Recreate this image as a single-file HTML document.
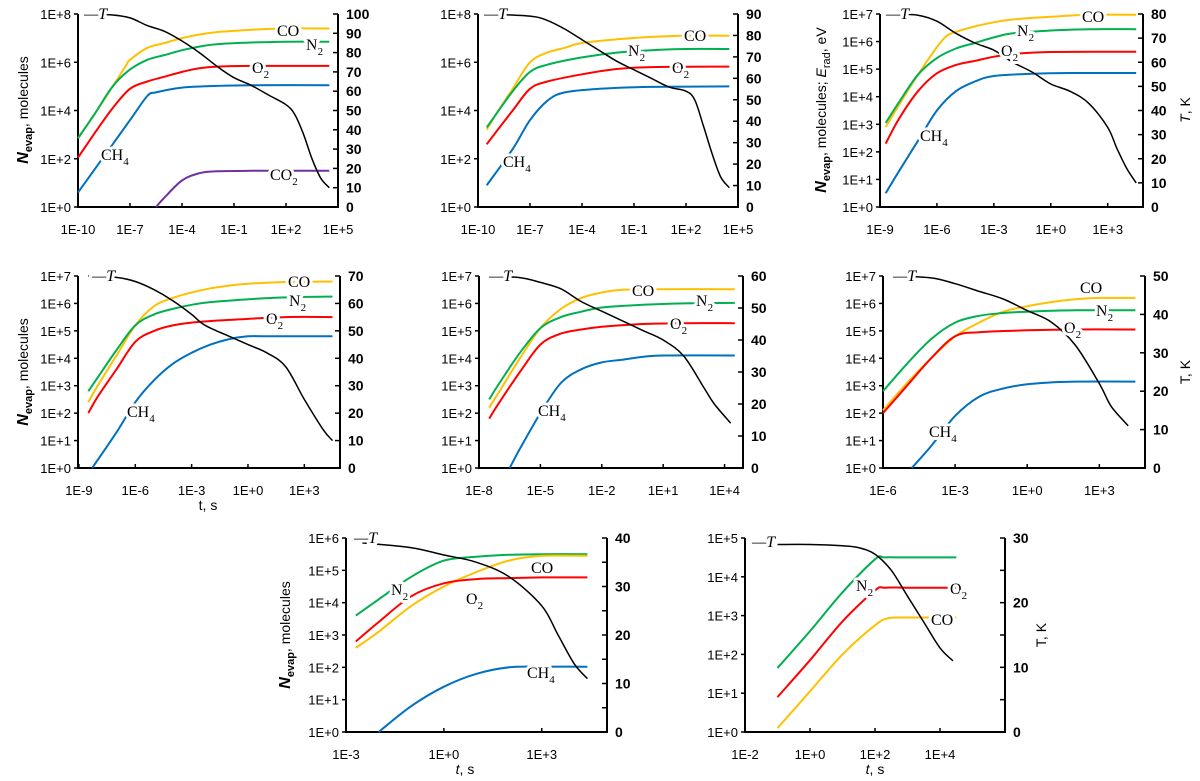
<!DOCTYPE html>
<html><head><meta charset="utf-8">
<style>
html,body{margin:0;padding:0;background:#fff;}
svg{display:block;}
.tk{font-family:"Liberation Sans",sans-serif;font-size:13px;fill:#000;}
.tr{font-family:"Liberation Sans",sans-serif;font-size:14px;font-weight:bold;fill:#000;}
.lb{font-family:"Liberation Serif",serif;font-size:16px;fill:#000;stroke:#fff;stroke-width:6px;paint-order:stroke;stroke-linejoin:round;}
.ax{font-family:"Liberation Sans",sans-serif;font-size:14px;fill:#000;}
</style></head>
<body>
<svg id="fig" width="1200" height="781" viewBox="0 0 1200 781" xmlns="http://www.w3.org/2000/svg"></svg>
<script>
// ---- data: [log10 t, log10 N] for species, [log10 t, T(K)] for temperature ----
const p1CO=[[-10,2.85],[-9,3.9],[-8,5],[-7.2,5.9],[-7,6.1],[-6,6.6],[-5,6.8],[-4,7],[-3,7.15],[-2,7.25],[-1,7.3],[0,7.35],[2,7.4],[4.5,7.4]];
const p1N2=[[-10,2.85],[-9,3.9],[-8,5],[-7,5.7],[-6,6.1],[-5,6.3],[-4,6.5],[-3,6.65],[-2,6.75],[0,6.82],[2,6.85],[4.5,6.85]];
const p1O2=[[-10,2.05],[-9,3.1],[-8,4.1],[-7,4.9],[-6,5.2],[-5,5.4],[-4,5.6],[-3,5.75],[-2,5.82],[0,5.85],[4.5,5.85]];
const p1CH4=[[-10,0.6],[-9,1.6],[-8,2.6],[-7,3.6],[-6,4.6],[-5.5,4.75],[-4,4.95],[-2,5.02],[0,5.05],[4.5,5.05]];
const p1CO2=[[-5.5,0],[-5,0.4],[-4,1.1],[-3,1.4],[-2,1.48],[0,1.5],[4.5,1.5]];
const p1T=[[-9.5,100],[-8,99.5],[-7,98],[-6,94],[-5,91],[-4,86],[-3,80],[-2,73],[-1,67],[0,63],[1,58],[2,53],[2.5,48],[3,38],[3.5,25],[4,15],[4.5,10]];

const p2CO=[[-9.5,3.2],[-9,3.8],[-8,4.9],[-7,6],[-6,6.4],[-5,6.6],[-4,6.8],[-2,6.95],[0,7.05],[2,7.1],[4.5,7.1]];
const p2N2=[[-9.5,3.3],[-9,3.8],[-8,4.8],[-7,5.6],[-6,5.9],[-4,6.2],[-2,6.4],[0,6.5],[2,6.55],[4.5,6.55]];
const p2O2=[[-9.5,2.6],[-8,4],[-7,4.9],[-6,5.2],[-4,5.5],[-2,5.72],[0,5.8],[4.5,5.82]];
const p2CH4=[[-9.5,0.9],[-8,2.4],[-7,3.6],[-6,4.4],[-5,4.75],[-3,4.9],[0,4.98],[4.5,5]];
const p2T=[[-9.5,90],[-7,89],[-6,87],[-5,83],[-4,78],[-3,73],[-2,68],[-1,64],[0,60],[1,56],[2,54],[2.5,50],[3,38],[3.5,25],[4,14],[4.5,9]];

const p3CO=[[-8.7,2.9],[-8,3.7],[-7,4.8],[-6,5.8],[-5.5,6.2],[-5,6.35],[-4,6.55],[-3,6.7],[-2,6.8],[0,6.9],[2,6.97],[4.5,6.97]];
const p3N2=[[-8.7,3.05],[-8,3.8],[-7,4.8],[-6,5.4],[-5,5.75],[-4,5.95],[-3,6.15],[-2,6.3],[0,6.4],[2,6.45],[4.5,6.45]];
const p3O2=[[-8.7,2.3],[-8,3.2],[-7,4.2],[-6,4.85],[-5,5.15],[-4,5.3],[-3,5.45],[-2,5.55],[0,5.62],[4.5,5.63]];
const p3CH4=[[-8.7,0.5],[-8,1.3],[-7,2.4],[-6,3.5],[-5,4.2],[-4,4.55],[-3,4.75],[-1,4.83],[1,4.86],[4.5,4.86]];
const p3T=[[-8.3,80],[-7,79.5],[-6,77],[-5,72],[-4,68],[-3,65],[-2,60],[-1,56],[0,51],[1,48],[2,43],[3,33],[3.5,24],[4,16],[4.5,10]];

const p4CO=[[-8.5,2.4],[-8,3],[-7,4.1],[-6,5.2],[-5,5.9],[-4,6.2],[-3,6.4],[-2,6.55],[-1,6.65],[0,6.72],[2,6.78],[4.5,6.8]];
const p4N2=[[-8.5,2.8],[-8,3.3],[-7,4.3],[-6,5.2],[-5,5.6],[-4,5.8],[-3,5.95],[-2,6.05],[0,6.15],[2,6.22],[4.5,6.25]];
const p4O2=[[-8.5,2],[-8,2.6],[-7,3.6],[-6,4.6],[-5,5],[-4,5.2],[-3,5.3],[-1,5.4],[2,5.5],[4.5,5.5]];
const p4CH4=[[-8.3,0],[-7,1.3],[-6,2.4],[-5,3.2],[-4,3.8],[-3,4.2],[-2,4.5],[-1,4.7],[0,4.8],[1,4.8],[4.5,4.8]];
const p4T=[[-8.5,70],[-7,69.5],[-6,68],[-5,65],[-4,61],[-3,56],[-2.5,53],[-2,51],[-1,48],[0,45],[1,42],[2,37],[3,25],[4,14],[4.5,10]];

const p5CO=[[-7.5,2.2],[-7,2.8],[-6,4],[-5,5.1],[-4,5.8],[-3,6.2],[-2,6.4],[-1,6.5],[1,6.52],[4.5,6.52]];
const p5N2=[[-7.5,2.5],[-7,3.1],[-6,4.2],[-5,5.1],[-4,5.5],[-3,5.7],[-2,5.85],[0,5.95],[2,6],[4.5,6.02]];
const p5O2=[[-7.5,1.8],[-7,2.4],[-6,3.5],[-5,4.5],[-4,4.9],[-3,5.05],[-2,5.15],[0,5.25],[2,5.28],[4.5,5.28]];
const p5CH4=[[-6.5,0],[-6,0.7],[-5,2],[-4,3.1],[-3,3.6],[-2,3.85],[-1,3.95],[0,4.05],[1,4.1],[4.5,4.1]];
const p5T=[[-7.5,60],[-6,59.5],[-5,58],[-4,56],[-3,52],[-2,49],[-1,46],[0,43],[1,40],[2,35],[3,25],[3.5,20],[4.3,14]];

const p6CO=[[-6,2.1],[-5,3.1],[-4,4],[-3,4.8],[-2,5.3],[-1,5.7],[0,5.9],[1,6.05],[2,6.15],[3,6.2],[4.5,6.2]];
const p6N2=[[-6,2.8],[-5,3.8],[-4,4.7],[-3,5.3],[-2,5.55],[-1,5.65],[0,5.7],[2,5.75],[4.5,5.75]];
const p6O2=[[-6,2],[-5,3],[-4,4],[-3,4.8],[-2,4.95],[0,5.02],[2,5.05],[4.5,5.05]];
const p6CH4=[[-4.8,0],[-4,0.8],[-3,1.9],[-2,2.6],[-1,2.9],[0,3.05],[1,3.12],[2,3.15],[4.5,3.15]];
const p6T=[[-5.5,50],[-4,49.5],[-3,48],[-2,46],[-1,44],[0,41],[1,38],[2,32],[3,22],[3.5,16],[4.2,11]];

const p7N2=[[-2.7,3.6],[-2,4.1],[-1,4.8],[0,5.3],[1,5.42],[2,5.48],[3,5.5],[4.4,5.5]];
const p7CO=[[-2.7,2.6],[-2,3.1],[-1,3.9],[0,4.5],[1,4.95],[2,5.3],[3,5.45],[4.4,5.45]];
const p7O2=[[-2.7,2.8],[-2,3.4],[-1,4.2],[0,4.6],[1,4.73],[2,4.76],[3,4.78],[4.4,4.78]];
const p7CH4=[[-2,0],[-1,0.8],[0,1.4],[1,1.8],[2,2],[3,2.02],[4.4,2.02]];
const p7T=[[-2.5,39],[-1,38],[0,36.5],[1,35],[2,32],[3,26],[3.5,20],[4,14],[4.4,11]];

const p8N2=[[-1,1.65],[0,2.6],[1,3.6],[2,4.45],[2.3,4.5],[3,4.5],[4.5,4.5]];
const p8O2=[[-1,0.9],[0,1.85],[1,2.85],[2,3.65],[2.3,3.72],[3,3.72],[4.5,3.72]];
const p8CO=[[-1,0.1],[0,1.05],[1,2],[2,2.75],[2.4,2.93],[3,2.95],[4.5,2.95]];
const p8T=[[-1,29],[0,29],[1,28.8],[1.5,28.5],[2,27.5],[2.5,25],[3,21],[3.5,17],[4,13],[4.4,11]];

const xTicks1=[-10,-7,-4,-1,2,5];
const xTicks3=[-9,-6,-3,0,3];
const xTicks5=[-8,-5,-2,1,4];
const xTicks6=[-6,-3,0,3];
const xTicks7=[-3,0,3];
const xTicks8=[-2,0,2,4];

const C={CO:'#ffc000',N2:'#00b050',O2:'#ff0000',CH4:'#0070c0',CO2:'#7030a0',T:'#000'};
const NS='http://www.w3.org/2000/svg';
const svg=document.getElementById('fig');
function mk(tag,attrs,parent){const e=document.createElementNS(NS,tag);for(const k in attrs)e.setAttribute(k,attrs[k]);(parent||svg).appendChild(e);return e;}
function fmtX(v){return '1E'+(v<0?'-':'+')+Math.abs(v);}
function smooth(pts){
  let d='M'+pts[0][0].toFixed(1)+','+pts[0][1].toFixed(1);
  for(let i=0;i<pts.length-1;i++){
    const p0=pts[i-1]||pts[i],p1=pts[i],p2=pts[i+1],p3=pts[i+2]||p2;
    const c1=[p1[0]+(p2[0]-p0[0])/6,p1[1]+(p2[1]-p0[1])/6];
    const c2=[p2[0]-(p3[0]-p1[0])/6,p2[1]-(p3[1]-p1[1])/6];
    d+='C'+c1[0].toFixed(1)+','+c1[1].toFixed(1)+' '+c2[0].toFixed(1)+','+c2[1].toFixed(1)+' '+p2[0].toFixed(1)+','+p2[1].toFixed(1);
  }
  return d;
}

function panel(cfg){
  const g=mk('g',{});
  
  
  const xs=v=>cfg.x0+(v-cfg.xd[0])/(cfg.xd[1]-cfg.xd[0])*(cfg.x1-cfg.x0);
  const ys=v=>cfg.y1-(v/cfg.ymax)*(cfg.y1-cfg.y0);
  const ts=v=>cfg.y1-(v/cfg.tmax)*(cfg.y1-cfg.y0);
  const ax=mk('path',{d:`M${cfg.x0},${cfg.y0}V${cfg.y1}H${cfg.x1}V${cfg.y0}`,fill:'none',stroke:'#000','stroke-width':2},g);
  
  
  for(let i=0;i<=cfg.ymax;i+=cfg.ystep){
    const y=ys(i);
    mk('line',{x1:cfg.x0-4,x2:cfg.x0,y1:y,y2:y,stroke:'#000','stroke-width':1.5},g);
    const t=mk('text',{x:cfg.x0-7,y:y+5,'text-anchor':'end',class:'tk'},g);
    t.textContent='1E+'+i;
    
    
  }
  for(let v=0;v<=cfg.tmax;v+=cfg.tstep){
    const y=ts(v);
    mk('line',{x1:cfg.x1-5,x2:cfg.x1,y1:y,y2:y,stroke:'#000','stroke-width':1.5},g);
    if(v%cfg.tlab===0){
      const t=mk('text',{x:cfg.x1+8,y:y+5,class:'tr'},g);
      t.textContent=v;
      
      
    }
  }
  cfg.xt.forEach(v=>{
    const x=xs(v);
    mk('line',{x1:x,x2:x,y1:cfg.y1,y2:cfg.y1-4,stroke:'#000','stroke-width':1.5},g);
    const t=mk('text',{x:x,y:cfg.y1+27,'text-anchor':'middle',class:'tk'},g);
    t.textContent=fmtX(v);
    
    
  });
  cfg.series.forEach(s=>{
    const f=s[0]==='T'?ts:ys;
    const pts=s[1].map(p=>[xs(p[0]),f(p[1])]);
    const p=mk('path',{d:smooth(pts),fill:'none',stroke:C[s[0]],'stroke-width':s[0]==='T'?1.5:2,'stroke-linejoin':'round'},g);
    
    
  });
  cfg.labels.forEach(l=>{
    const t=mk('text',{x:l[2],y:l[3],class:'lb','font-style':l[0]==='T'?'italic':'normal'},g);
    
    
    if(l[0]==='T'){t.textContent='\u2014T';}
    else{
      t.textContent=l[1];
      if(l[4]){const s=mk('tspan',{dy:5,'font-size':11},t);s.textContent=l[4];}
    }
  });
}
const L=(n,txt,x,y,sub)=>[n,txt,x,y,sub];
panel({name:'panel-1',x0:78,x1:338,y0:14,y1:207,xd:[-10,5],ymax:8,ystep:2,tmax:100,tstep:10,tlab:10,xt:xTicks1,
 series:[['CO',p1CO],['N2',p1N2],['O2',p1O2],['CH4',p1CH4],['CO2',p1CO2],['T',p1T]],
 labels:[L('T','',84,19),L('CO','CO',277,36),L('N2','N',306,50,'2'),L('O2','O',252,73,'2'),L('CH4','CH',101,160,'4'),L('CO2','CO',270,180,'2')]});
panel({name:'panel-2',x0:478,x1:738,y0:14,y1:207,xd:[-10,5],ymax:8,ystep:2,tmax:90,tstep:10,tlab:10,xt:xTicks1,
 series:[['CO',p2CO],['N2',p2N2],['O2',p2O2],['CH4',p2CH4],['T',p2T]],
 labels:[L('T','',484,19),L('CO','CO',684,41),L('N2','N',628,56,'2'),L('O2','O',672,73,'2'),L('CH4','CH',503,167,'4')]});
panel({name:'panel-3',x0:880,x1:1143,y0:14,y1:207,xd:[-9,4.86],ymax:7,ystep:1,tmax:80,tstep:10,tlab:10,xt:xTicks3,
 series:[['CO',p3CO],['N2',p3N2],['O2',p3O2],['CH4',p3CH4],['T',p3T]],
 labels:[L('T','',886,19),L('CO','CO',1082,22),L('N2','N',1017,36,'2'),L('O2','O',1001,56,'2'),L('CH4','CH',920,141,'4')]});
panel({name:'panel-4',x0:78,x1:340,y0:276,y1:468,xd:[-9.05,4.9],ymax:7,ystep:1,tmax:70,tstep:10,tlab:10,xt:xTicks3,
 series:[['CO',p4CO],['N2',p4N2],['O2',p4O2],['CH4',p4CH4],['T',p4T]],
 labels:[L('T','',92,281),L('CO','CO',288,287),L('N2','N',289,306,'2'),L('O2','O',266,324,'2'),L('CH4','CH',127,417,'4')]});
panel({name:'panel-5',x0:479,x1:743,y0:276,y1:468,xd:[-8,4.9],ymax:7,ystep:1,tmax:60,tstep:10,tlab:10,xt:xTicks5,
 series:[['CO',p5CO],['N2',p5N2],['O2',p5O2],['CH4',p5CH4],['T',p5T]],
 labels:[L('T','',489,281),L('CO','CO',632,296),L('N2','N',696,306,'2'),L('O2','O',670,329,'2'),L('CH4','CH',538,416,'4')]});
panel({name:'panel-6',x0:883,x1:1145,y0:276,y1:468,xd:[-6,4.9],ymax:7,ystep:1,tmax:50,tstep:10,tlab:10,xt:xTicks6,
 series:[['CO',p6CO],['N2',p6N2],['O2',p6O2],['CH4',p6CH4],['T',p6T]],
 labels:[L('T','',893,281),L('CO','CO',1080,293),L('N2','N',1096,316,'2'),L('O2','O',1064,333,'2'),L('CH4','CH',929,437,'4')]});
panel({name:'panel-7',x0:346,x1:607,y0:538,y1:732,xd:[-3,5],ymax:6,ystep:1,tmax:40,tstep:5,tlab:10,xt:xTicks7,
 series:[['N2',p7N2],['CO',p7CO],['O2',p7O2],['CH4',p7CH4],['T',p7T]],
 labels:[L('T','',354,543),L('CO','CO',531,573),L('N2','N',391,595,'2'),L('O2','O',466,604,'2'),L('CH4','CH',527,678,'4')]});
panel({name:'panel-8',x0:745,x1:1005,y0:538,y1:732,xd:[-2,6],ymax:5,ystep:1,tmax:30,tstep:5,tlab:10,xt:xTicks8,
 series:[['N2',p8N2],['O2',p8O2],['CO',p8CO],['T',p8T]],
 labels:[L('T','',752,547),L('N2','N',856,591,'2'),L('O2','O',950,594,'2'),L('CO','CO',931,625)]});
</script>
<svg width="1200" height="781" style="position:absolute;left:0;top:0">
<text class="ax" transform="translate(28,110) rotate(-90)" text-anchor="middle"><tspan font-weight="bold" font-style="italic" font-size="16">N</tspan><tspan font-weight="bold" font-size="11" dy="4">evap</tspan><tspan dy="-4">, molecules</tspan></text>
<text class="ax" transform="translate(826,110) rotate(-90)" text-anchor="middle"><tspan font-weight="bold" font-style="italic" font-size="16">N</tspan><tspan font-weight="bold" font-size="11" dy="4">evap</tspan><tspan dy="-4">, molecules; </tspan><tspan font-style="italic">E</tspan><tspan font-size="11" dy="4">rad</tspan><tspan dy="-4">, eV</tspan></text>
<text class="ax" transform="translate(1190,110) rotate(-90)" text-anchor="middle"><tspan font-style="italic">T</tspan>, K</text>
<text class="ax" transform="translate(28,372) rotate(-90)" text-anchor="middle"><tspan font-weight="bold" font-style="italic" font-size="16">N</tspan><tspan font-weight="bold" font-size="11" dy="4">evap</tspan><tspan dy="-4">, molecules</tspan></text>
<text class="ax" transform="translate(1190,372) rotate(-90)" text-anchor="middle">T, K</text>
<text class="ax" x="208" y="510" text-anchor="middle">t, s</text>
<text class="ax" transform="translate(290,635) rotate(-90)" text-anchor="middle"><tspan font-weight="bold" font-style="italic" font-size="16">N</tspan><tspan font-weight="bold" font-size="11" dy="4">evap</tspan><tspan dy="-4">, molecules</tspan></text>
<text class="ax" x="465" y="774" text-anchor="middle"><tspan font-style="italic">t</tspan>, s</text>
<text class="ax" transform="translate(1046,635) rotate(-90)" text-anchor="middle">T, K</text>
<text class="ax" x="875" y="774" text-anchor="middle"><tspan font-style="italic">t</tspan>, s</text>
</svg>
</body></html>
